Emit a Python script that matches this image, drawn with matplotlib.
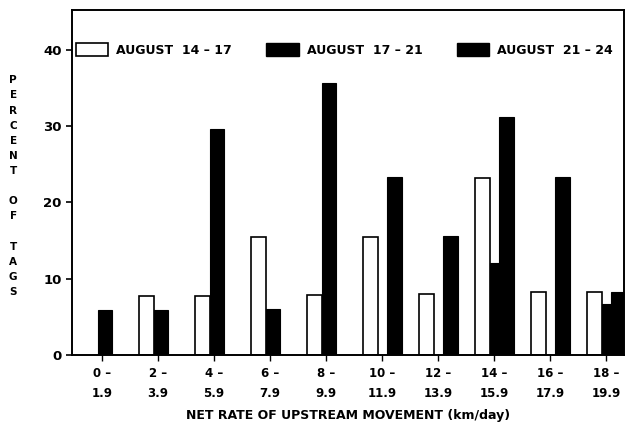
import numpy as np
import matplotlib
matplotlib.use("Agg")
import matplotlib.pyplot as plt
from matplotlib.patches import Patch

# percent of tags per rate class
rate_low = ["0", "2", "4", "6", "8", "10", "12", "14", "16", "18"]
rate_high = ["1.9", "3.9", "5.9", "7.9", "9.9", "11.9", "13.9", "15.9", "17.9", "19.9"]
aug_14_17 = [0, 7.7, 7.7, 15.4, 7.9, 15.5, 8.0, 23.2, 8.2, 8.3]
aug_17_21 = [5.9, 5.9, 29.6, 6.0, 35.6, 0, 0, 12.0, 0, 6.7]
aug_21_24 = [0, 0, 0, 0, 0, 23.3, 15.6, 31.2, 23.3, 8.3]
series_names = ["AUGUST  14 \u2013 17", "AUGUST  17 \u2013 21", "AUGUST  21 \u2013 24"]

plt.rcParams['font.family'] = 'DejaVu Sans'
plt.rcParams['font.weight'] = 'bold'

fig = plt.figure(figsize=(6.28, 4.28), dpi=100)
ax = fig.add_axes([0.1146, 0.1706, 0.879, 0.806])

x = np.arange(len(rate_low))
w = 0.27

def nonzero(vals):
    v = np.array(vals, dtype=float)
    return np.where(v > 0, v, np.nan)

ax.bar(x - 0.2, nonzero(aug_14_17), w, color="white", edgecolor="black", linewidth=1.2)
ax.bar(x + 0.05, nonzero(aug_17_21), 0.25, color="black", edgecolor="black", linewidth=0.8)
ax.bar(x + 0.22, nonzero(aug_21_24), w, color="black", edgecolor="black", linewidth=0.8)

ax.set_xlim(-0.536, 9.32)
ax.set_ylim(0, 45.2)
ax.set_yticks([0, 10, 20, 30, 40])
ax.set_xticks(x)
ax.set_xticklabels([f"{a} \u2013\n{b}" for a, b in zip(rate_low, rate_high)],
                   fontsize=8.5, fontweight="bold", linespacing=1.7)
ax.tick_params(axis="y", labelsize=9.5, length=4, width=1.2, direction="out")
ax.tick_params(axis="x", length=4, width=1, direction="out", pad=5)
for s in ax.spines.values():
    s.set_linewidth(1.4)

ax.set_xlabel("NET RATE OF UPSTREAM MOVEMENT (km/day)", fontsize=9,
              fontweight="bold", labelpad=6)

fig.text(0.021, 0.565, "P\nE\nR\nC\nE\nN\nT\n\nO\nF\n\nT\nA\nG\nS",
         ha="center", va="center", fontsize=7.5, fontweight="bold", linespacing=1.64)

handles = [
    Patch(facecolor="white", edgecolor="black", linewidth=1.2),
    Patch(facecolor="black", edgecolor="black"),
    Patch(facecolor="black", edgecolor="black"),
]
ax.legend(handles, series_names, ncol=3, loc="center left",
          bbox_to_anchor=(0.0, 40 / 45.2), frameon=False, fontsize=9,
          handlelength=2.6, handleheight=1.2, handletextpad=0.64,
          columnspacing=2.75, borderaxespad=0, borderpad=0.3)

fig.savefig("out.png", dpi=100)
